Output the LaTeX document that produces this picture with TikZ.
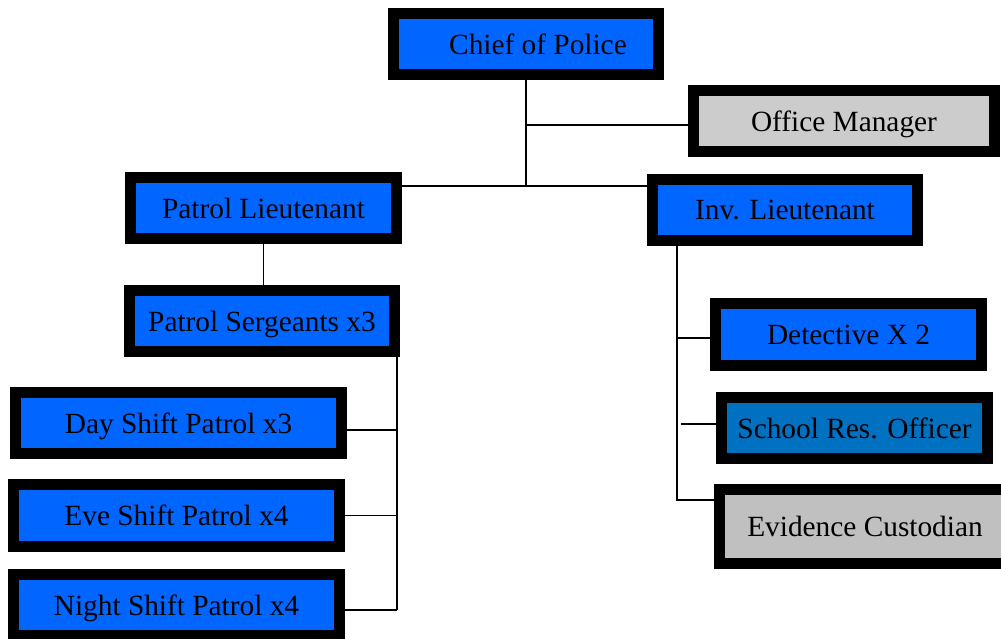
\documentclass[tikz,border=0pt]{standalone}
\usepackage{fontspec}
\setmainfont{Liberation Serif}
\usepackage{xcolor}
\usepackage{tikz}
\usetikzlibrary{calc}
\definecolor{orgblue}{RGB}{0, 102, 255}
\definecolor{orgsro}{RGB}{0, 112, 192}
\definecolor{orggray}{RGB}{204, 204, 204}
\definecolor{orgsilver}{RGB}{192, 192, 192}

\begin{document}
\begin{tikzpicture}[x=0.75pt, y=-0.75pt,
  orgbox/.style 2 args={draw=black, line width=8.25pt, fill=orgblue, inner sep=0pt,
    minimum width=#1*0.75pt, minimum height=#2*0.75pt, text depth=0pt,
    font=\fontsize{22}{26}\selectfont},
  link/.style={line width=1.3pt}]
\useasboundingbox (0,0) rectangle (1001,639);

% Top of the chart
\node[orgbox={265}{61}] (chief) at (526,44) {\hspace{18pt}Chief of Police};
\node[orgbox={301}{61}, fill=orggray] (office) at (844,121) {Office Manager};
\coordinate (hub) at (526,186);
\draw[link] (chief.south) |- ($(office.west)+(0,4)$);
\draw[link] (chief.south) -- (hub);

% Patrol side
\node[orgbox={266}{61}] (plt) at (263.5,208) {Patrol Lieutenant};
\node[orgbox={265}{61}] (sgt) at (262,321) {Patrol Sergeants x3};
\node[orgbox={326}{61}] (day) at (178.5,423) {Day Shift Patrol x3};
\node[orgbox={326}{62}] (eve) at (176.5,515.5) {Eve Shift Patrol x4};
\node[orgbox={326}{61}] (night) at (176.5,605) {Night Shift Patrol x4};
\draw[link] (hub) -- (hub -| plt.east);
\draw[link] (plt.south) -- (plt.south |- sgt.north);
\coordinate (sbus) at (397,610);
\draw[link] (sbus |- sgt.south) -- (sbus);
\draw[link] ($(day.east)+(0,7)$) -- ($(day.east -| sbus)+(0,7)$);
\draw[link] (eve.east) -- (eve.east -| sbus);
\draw[link] ($(night.east)+(0,5)$) -- (sbus);

% Investigations side
\node[orgbox={265}{61}] (ilt) at (785,210) {Inv. Lieutenant};
\node[orgbox={266}{62}] (det) at (848.5,334.5) {Detective X 2};
\node[orgbox={266}{61}, fill=orgsro] (sro) at (854.5,428) {School Res. Officer};
\node[orgbox={291}{74}, fill=orgsilver] (evid) at (865,526.5) {Evidence Custodian};
\draw[link] (hub) -- (hub -| ilt.west);
\coordinate (ibus) at (677,500);
\draw[link] (ibus |- ilt.south) -- (ibus) -- (ibus -| evid.west);
\draw[link] ($(det.west)+(0,3.5)$) -- ($(det.west -| ibus)+(0,3.5)$);
\draw[link] ($(sro.west)+(0,-4)$) -- ($(sro.west -| ibus)+(4,-4)$);
\end{tikzpicture}
\end{document}
